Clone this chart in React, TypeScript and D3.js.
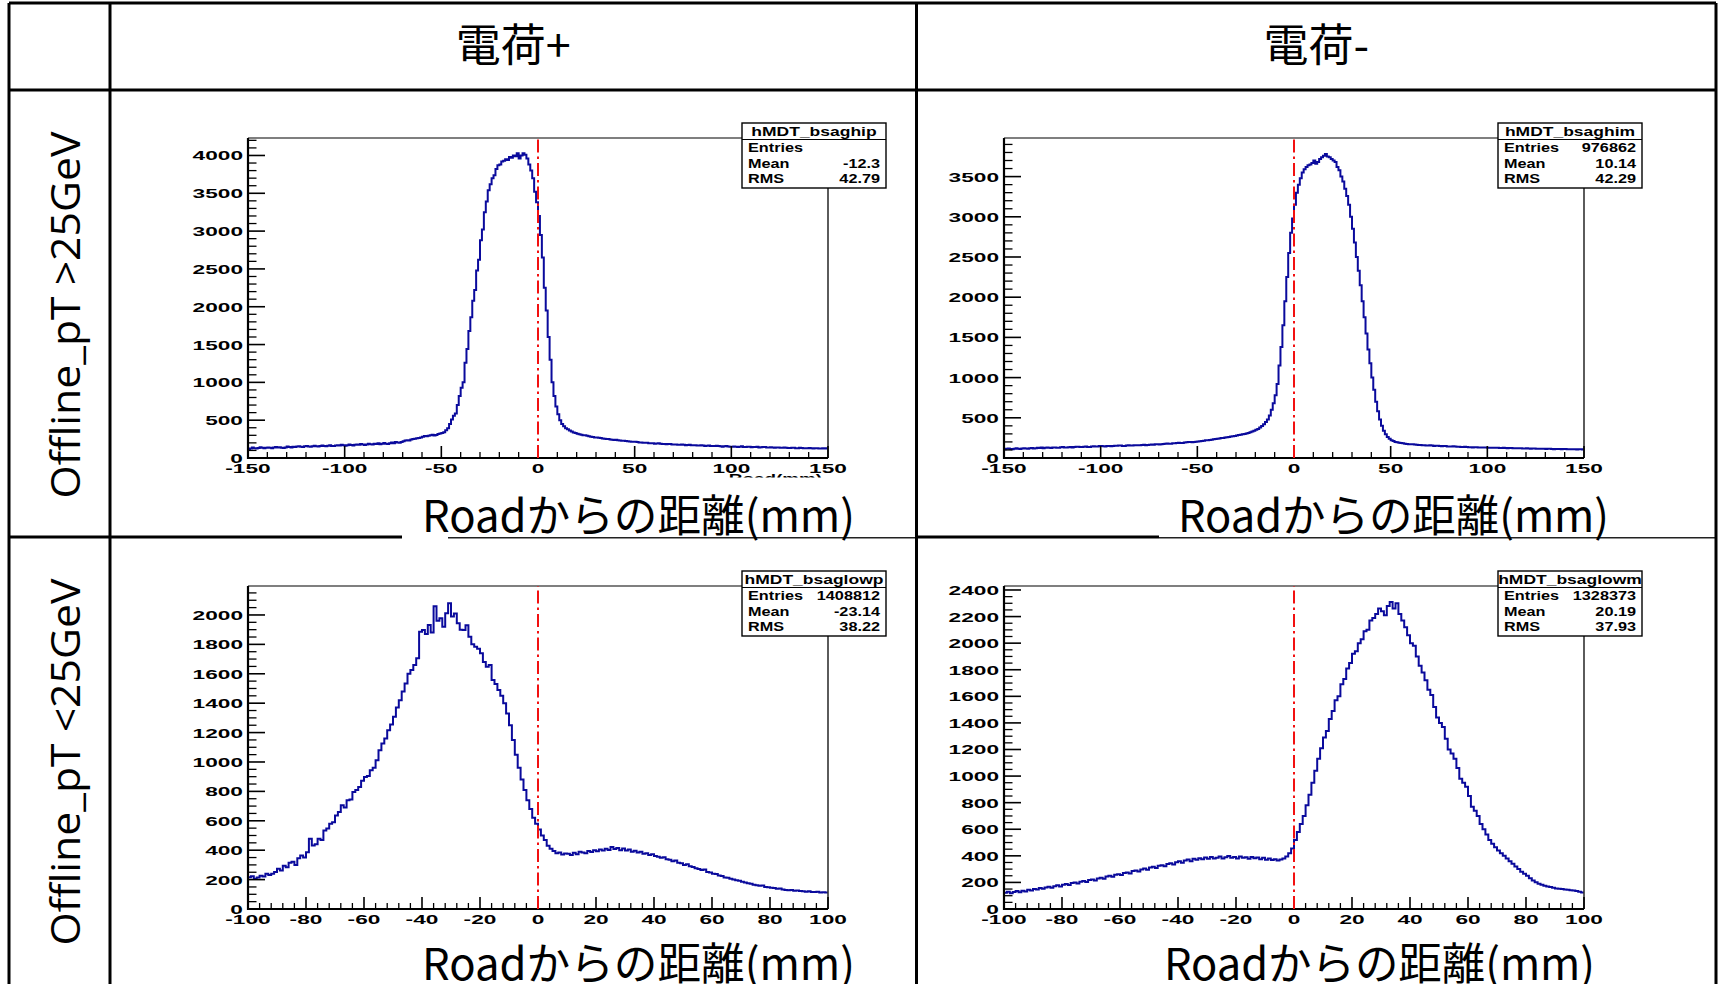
import React, { useEffect } from 'react';
import * as d3 from 'd3';

const W = 1719;
const H = 984;

// ---- histogram contents (bin counts) ----
// hMDT_bsaghip : 300 bins of 1 mm from -150 to 150
const highPlusCounts = [
  118, 126, 138, 130, 124, 133, 142, 136, 128, 135,
  140, 134, 130, 139, 146, 138, 141, 136, 132, 140,
  152, 146, 140, 148, 145, 151, 156, 149, 147, 155,
  160, 152, 150, 157, 162, 155, 151, 160, 165, 158,
  156, 163, 168, 160, 158, 166, 170, 164, 175, 169,
  162, 170, 178, 171, 166, 176, 180, 174, 185, 178,
  172, 180, 188, 182, 178, 190, 186, 194, 182, 190,
  198, 190, 186, 195, 204, 196, 212, 206, 200, 210,
  222, 230, 236, 232, 244, 250, 255, 262, 266, 272,
  280, 290, 286, 294, 302, 308, 298, 304, 318, 324,
  330, 342, 368, 395, 450, 510, 560, 590, 700, 820,
  930, 1000, 1260, 1440, 1680, 1860, 2080, 2220, 2480, 2620,
  2880, 3020, 3250, 3390, 3540, 3620, 3700, 3740, 3820, 3870,
  3880, 3920, 3930, 3950, 3940, 3980, 3970, 4000, 3990, 4030,
  3960, 4000, 4030, 4010, 3960, 3880, 3800, 3700, 3520, 3380,
  3200, 2950, 2650, 2250, 1950, 1600, 1300, 1000, 820, 680,
  580, 500, 450, 420, 395, 380, 362, 350, 338, 330,
  322, 315, 308, 302, 300, 295, 288, 282, 278, 272,
  272, 268, 265, 258, 256, 252, 250, 246, 242, 238,
  240, 236, 232, 228, 228, 224, 222, 218, 216, 214,
  214, 210, 206, 204, 202, 200, 200, 196, 196, 194,
  190, 192, 194, 188, 186, 186, 182, 184, 186, 180,
  178, 180, 176, 174, 178, 176, 170, 172, 174, 170,
  168, 170, 166, 164, 168, 166, 160, 162, 164, 160,
  158, 160, 162, 158, 156, 150, 154, 158, 152, 150,
  150, 152, 148, 146, 150, 154, 146, 144, 150, 148,
  142, 146, 144, 148, 140, 142, 146, 144, 138, 140,
  142, 140, 136, 138, 140, 136, 134, 138, 136, 132,
  132, 136, 134, 130, 130, 134, 132, 128, 128, 130,
  132, 128, 126, 130, 128, 124, 125, 128, 126, 130,
];
// hMDT_bsaghim : 300 bins of 1 mm from -150 to 150
const highMinusCounts = [
  108, 114, 118, 112, 110, 116, 120, 114, 112, 118,
  122, 118, 116, 120, 124, 118, 122, 126, 124, 130,
  122, 126, 130, 128, 124, 130, 132, 128, 128, 134,
  136, 132, 130, 134, 138, 132, 136, 140, 140, 138,
  136, 140, 142, 138, 138, 144, 146, 142, 142, 148,
  148, 146, 144, 150, 150, 146, 148, 152, 152, 156,
  155, 150, 150, 154, 158, 154, 155, 160, 160, 158,
  158, 162, 165, 160, 162, 166, 168, 164, 172, 170,
  168, 172, 175, 178, 180, 176, 178, 182, 185, 188,
  190, 186, 188, 192, 195, 198, 200, 196, 198, 202,
  205, 208, 212, 216, 220, 222, 225, 228, 232, 236,
  240, 244, 248, 250, 255, 258, 262, 266, 270, 275,
  280, 285, 290, 295, 300, 305, 312, 320, 330, 340,
  350, 362, 380, 398, 420, 448, 480, 530, 600, 680,
  780, 920, 1150, 1380, 1650, 1950, 2250, 2550, 2800, 2980,
  3150, 3300, 3400, 3480, 3550, 3590, 3620, 3640, 3650, 3670,
  3700, 3660, 3680, 3720, 3740, 3760, 3780, 3750, 3740, 3720,
  3700, 3680, 3620, 3580, 3500, 3440, 3350, 3260, 3150, 3000,
  2850, 2680, 2500, 2330, 2150, 1950, 1750, 1550, 1350, 1180,
  1000, 850, 700, 580, 480, 400, 340, 295, 260, 238,
  220, 210, 200, 195, 190, 186, 182, 178, 175, 172,
  170, 170, 168, 165, 162, 162, 160, 158, 155, 156,
  158, 154, 150, 152, 152, 150, 146, 148, 148, 144,
  142, 144, 145, 142, 140, 140, 138, 136, 140, 138,
  135, 134, 132, 134, 135, 132, 130, 131, 132, 130,
  128, 128, 126, 127, 128, 126, 124, 125, 126, 124,
  122, 123, 124, 122, 120, 121, 122, 120, 118, 119,
  120, 118, 116, 117, 118, 116, 115, 114, 116, 115,
  112, 114, 115, 113, 110, 112, 113, 111, 110, 112,
  112, 110, 108, 110, 110, 108, 106, 108, 108, 106,
];
// hMDT_bsaglowp : 200 bins of 1 mm from -100 to 100
const lowPlusCounts = [
  216, 222, 205, 214, 227, 221, 239, 232, 239, 252,
  273, 262, 295, 284, 314, 322, 300, 345, 364, 350,
  386, 478, 432, 440, 477, 470, 534, 548, 580, 590,
  636, 660, 705, 690, 739, 745, 795, 810, 830, 872,
  898, 905, 943, 960, 1011, 1080, 1125, 1160, 1216, 1255,
  1307, 1370, 1420, 1480, 1534, 1600, 1625, 1660, 1705, 1886,
  1898, 1870, 1932, 1880, 2060, 1960, 1977, 1920, 2011, 2080,
  1989, 2010, 1943, 1900, 1898, 1930, 1852, 1800, 1784, 1770,
  1739, 1680, 1648, 1660, 1557, 1530, 1489, 1450, 1400, 1330,
  1250, 1150, 1050, 960, 880, 810, 740, 680, 620, 580,
  540, 500, 470, 430, 410, 395, 380, 385, 370, 378,
  375, 368, 382, 372, 390, 385, 380, 395, 388, 400,
  392, 405, 398, 410, 402, 422, 408, 415, 400, 412,
  398, 405, 390, 396, 385, 390, 375, 380, 368, 372,
  360, 355, 348, 352, 338, 335, 325, 330, 315, 312,
  300, 305, 290, 285, 278, 272, 265, 268, 252, 248,
  240, 238, 228, 225, 215, 212, 205, 200, 195, 192,
  185, 180, 176, 172, 165, 162, 158, 160, 150, 148,
  145, 142, 138, 140, 132, 130, 128, 130, 124, 126,
  122, 120, 118, 121, 116, 115, 118, 112, 114, 112,
];
// hMDT_bsaglowm : 200 bins of 1 mm from -100 to 100
const lowMinusCounts = [
  123, 130, 118, 128, 135, 126, 138, 132, 145, 140,
  150, 146, 158, 152, 162, 168, 160, 172, 178, 170,
  182, 188, 180, 195, 200, 192, 205, 210, 204, 218,
  222, 215, 230, 236, 228, 245, 250, 242, 258, 262,
  255, 270, 275, 268, 285, 290, 282, 298, 305, 296,
  312, 318, 308, 325, 330, 322, 338, 345, 335, 352,
  360, 348, 365, 372, 360, 378, 370, 382, 375, 388,
  378, 392, 380, 385, 395, 380, 390, 398, 385, 392,
  380, 395, 385, 390, 378, 392, 382, 388, 375, 385,
  370, 380, 368, 375, 365, 372, 380, 395, 420, 455,
  520, 580, 640, 700, 780, 860, 950, 1040, 1130, 1210,
  1290, 1340, 1430, 1490, 1570, 1600, 1690, 1730, 1810, 1850,
  1920, 1940, 2000, 2030, 2090, 2100, 2170, 2190, 2220, 2260,
  2240, 2210, 2280, 2310, 2260, 2300, 2220, 2170, 2120, 2060,
  2000, 1980, 1900, 1830, 1780, 1720, 1650, 1610, 1520, 1440,
  1400, 1370, 1280, 1200, 1170, 1130, 1060, 980, 950, 920,
  850, 770, 740, 700, 640, 600, 560, 520, 490, 465,
  440, 420, 400, 380, 360, 340, 320, 300, 280, 265,
  250, 232, 215, 202, 190, 182, 175, 170, 165, 160,
  155, 152, 150, 146, 145, 142, 140, 135, 130, 125,
];

// ---- axis ticks ----
const highXTicks = [-150, -100, -50, 0, 50, 100, 150];
const lowXTicks = [-100, -80, -60, -40, -20, 0, 20, 40, 60, 80, 100];
const highPlusYTicks = [0, 500, 1000, 1500, 2000, 2500, 3000, 3500, 4000];
const highMinusYTicks = [0, 500, 1000, 1500, 2000, 2500, 3000, 3500];
const lowPlusYTicks = [0, 200, 400, 600, 800, 1000, 1200, 1400, 1600, 1800, 2000];
const lowMinusYTicks = [0, 200, 400, 600, 800, 1000, 1200, 1400, 1600, 1800, 2000, 2200, 2400];

// ---- stats boxes ----
const statNames = ['hMDT_bsaghip', 'hMDT_bsaghim', 'hMDT_bsaglowp', 'hMDT_bsaglowm'];
const statEntries = ['', '976862', '1408812', '1328373'];
const statMeans = ['-12.3', '10.14', '-23.14', '20.19'];
const statRms = ['42.79', '42.29', '38.22', '37.93'];

// ---- table texts ----
const columnHeaders = ['電荷+', '電荷-'];
const rowHeaders = ['Offline_pT >25GeV', 'Offline_pT <25GeV'];
const axisTitle = 'Roadからの距離(mm)';
const hiddenRootTitle = 'Road(mm)';

const ROOT_FONT = '"Liberation Sans", Arial, Helvetica, sans-serif';
const JP_FONT = '"Noto Sans CJK JP", "Noto Sans", sans-serif';

type PanelCfg = {
  counts: number[];
  xmin: number; xmax: number; binW: number;
  ymax: number;
  xTicks: number[]; xMinor: number;
  yTicks: number[]; yMinor: number;
  left: number; right: number; top: number; bottom: number;
  stat: number;
};

function RootText(props: { x: number; y: number; anchor: string; size: number; sx: number; children: any; fill?: string }) {
  const { x, y, anchor, size, sx, children, fill } = props;
  return (
    <text
      transform={`translate(${x},${y}) scale(${sx},1)`}
      textAnchor={anchor as any}
      fontFamily={ROOT_FONT}
      fontWeight="bold"
      fontSize={size}
      fill={fill || '#000'}
    >
      {children}
    </text>
  );
}

function Panel({ p }: { p: PanelCfg }) {
  const x = d3.scaleLinear().domain([p.xmin, p.xmax]).range([p.left, p.right]);
  const y = d3.scaleLinear().domain([0, p.ymax]).range([p.bottom, p.top]);
  const pts: [number, number][] = p.counts.map((c, i) => [p.xmin + i * p.binW, c]);
  pts.push([p.xmin + p.counts.length * p.binW, p.counts[p.counts.length - 1]]);
  const path = d3
    .line<[number, number]>()
    .x((d) => x(d[0]))
    .y((d) => y(d[1]))
    .curve(d3.curveStepAfter)(pts) as string;

  const isMajor = (v: number, ticks: number[]) => ticks.some((t) => Math.abs(t - v) < 1e-6);
  const xMinors = d3.range(p.xmin, p.xmax + 1e-6, p.xMinor).filter((v) => !isMajor(v, p.xTicks));
  const yMinors = d3.range(0, p.ymax, p.yMinor).filter((v) => !isMajor(v, p.yTicks));

  const sb = { x0: p.right - 86, x1: p.right + 58, y0: p.top - 15, y1: p.top + 50 };
  const rowY = [sb.y0 + 24, sb.y0 + 40, sb.y0 + 55.5];

  return (
    <g>
      <path d={path} fill="none" stroke="#0a0a9c" strokeWidth={2} strokeLinejoin="miter" />
      {/* frame */}
      <line x1={p.left} x2={p.right} y1={p.top} y2={p.top} stroke="#555" strokeWidth={1.6} />
      <line x1={p.right} x2={p.right} y1={p.top} y2={p.bottom} stroke="#333" strokeWidth={1.6} />
      <line x1={p.left} x2={p.left} y1={p.top} y2={p.bottom + 1} stroke="#000" strokeWidth={2.2} />
      <line x1={p.left - 1} x2={p.right} y1={p.bottom} y2={p.bottom} stroke="#000" strokeWidth={2.2} />
      {/* y ticks */}
      {p.yTicks.map((t) => (
        <line key={'ym' + t} x1={p.left} x2={p.left + 17} y1={y(t)} y2={y(t)} stroke="#000" strokeWidth={1.6} />
      ))}
      {yMinors.map((t) => (
        <line key={'yn' + t} x1={p.left} x2={p.left + 8.5} y1={y(t)} y2={y(t)} stroke="#000" strokeWidth={1.3} />
      ))}
      {/* x ticks */}
      {p.xTicks.map((t) => (
        <line key={'xm' + t} x1={x(t)} x2={x(t)} y1={p.bottom} y2={p.bottom - 12} stroke="#000" strokeWidth={1.6} />
      ))}
      {xMinors.map((t) => (
        <line key={'xn' + t} x1={x(t)} x2={x(t)} y1={p.bottom} y2={p.bottom - 6} stroke="#000" strokeWidth={1.3} />
      ))}
      {/* tick labels */}
      {p.yTicks.map((t) => (
        <RootText key={'yl' + t} x={p.left - 5} y={y(t) + 5} anchor="end" size={13.5} sx={1.68}>
          {String(t)}
        </RootText>
      ))}
      {p.xTicks.map((t) => (
        <RootText key={'xl' + t} x={x(t)} y={p.bottom + 15} anchor="middle" size={13.5} sx={1.68}>
          {String(t)}
        </RootText>
      ))}
      {/* reference line at 0 */}
      <line
        x1={x(0)} x2={x(0)} y1={p.bottom} y2={p.top}
        stroke="#f21010" strokeWidth={2} strokeDasharray="13,4,2.5,4"
      />
      {/* stats box */}
      <rect x={sb.x0} y={sb.y0} width={sb.x1 - sb.x0} height={sb.y1 - sb.y0} fill="#fff" stroke="#000" strokeWidth={1.4} />
      <line x1={sb.x0} x2={sb.x1} y1={sb.y0 + 16.5} y2={sb.y0 + 16.5} stroke="#000" strokeWidth={1.2} />
      <RootText x={(sb.x0 + sb.x1) / 2} y={sb.y0 + 13} anchor="middle" size={12.5} sx={1.4}>
        {statNames[p.stat]}
      </RootText>
      <RootText x={sb.x0 + 6} y={rowY[0] + 4.5} anchor="start" size={12.5} sx={1.3}>Entries</RootText>
      <RootText x={sb.x1 - 6} y={rowY[0] + 4.5} anchor="end" size={12.5} sx={1.3}>{statEntries[p.stat]}</RootText>
      <RootText x={sb.x0 + 6} y={rowY[1] + 4.5} anchor="start" size={12.5} sx={1.3}>Mean</RootText>
      <RootText x={sb.x1 - 6} y={rowY[1] + 4.5} anchor="end" size={12.5} sx={1.3}>{statMeans[p.stat]}</RootText>
      <RootText x={sb.x0 + 6} y={rowY[2] + 4.5} anchor="start" size={12.5} sx={1.3}>RMS</RootText>
      <RootText x={sb.x1 - 6} y={rowY[2] + 4.5} anchor="end" size={12.5} sx={1.3}>{statRms[p.stat]}</RootText>
    </g>
  );
}

export default function App() {
  useEffect(() => {
    document.body.style.margin = '0';
    document.body.style.overflow = 'hidden';
  }, []);

  const colL = { left: 248, right: 828 };
  const colR = { left: 1004, right: 1584 };
  const rowT = { top: 138, bottom: 458 };
  const rowB = { top: 586, bottom: 909 };

  const panels: PanelCfg[] = [
    { counts: highPlusCounts, xmin: -150, xmax: 150, binW: 1, ymax: 4231, xTicks: highXTicks, xMinor: 10, yTicks: highPlusYTicks, yMinor: 100, ...colL, ...rowT, stat: 0 },
    { counts: highMinusCounts, xmin: -150, xmax: 150, binW: 1, ymax: 3980, xTicks: highXTicks, xMinor: 10, yTicks: highMinusYTicks, yMinor: 100, ...colR, ...rowT, stat: 1 },
    { counts: lowPlusCounts, xmin: -100, xmax: 100, binW: 1, ymax: 2197, xTicks: lowXTicks, xMinor: 4, yTicks: lowPlusYTicks, yMinor: 50, ...colL, ...rowB, stat: 2 },
    { counts: lowMinusCounts, xmin: -100, xmax: 100, binW: 1, ymax: 2430, xTicks: lowXTicks, xMinor: 4, yTicks: lowMinusYTicks, yMinor: 50, ...colR, ...rowB, stat: 3 },
  ];

  const gridX = [9, 110, 916.5, 1716];
  const gridY = { top: 3, header: 90, mid: 537 };
  const titles = [
    { x: 422, y: 532, w: 433 },
    { x: 1178, y: 532, w: 431 },
    { x: 422, y: 980, w: 433 },
    { x: 1164, y: 980, w: 431 },
  ];

  return (
    <svg width={W} height={H} style={{ position: 'absolute', left: 0, top: 0, background: '#fff' }}>
      <rect x={0} y={0} width={W} height={H} fill="#fff" />
      <defs>
        <clipPath id="hiddenTitleClip">
          <rect x={700} y={468} width={140} height={9.5} />
        </clipPath>
      </defs>
      {/* table grid */}
      <line x1={gridX[0]} x2={gridX[3]} y1={gridY.top} y2={gridY.top} stroke="#000" strokeWidth={3} />
      <line x1={gridX[0]} x2={gridX[3]} y1={gridY.header} y2={gridY.header} stroke="#000" strokeWidth={3} />
      {/* middle divider: partly covered by the axis-title text boxes */}
      <line x1={gridX[0]} x2={402} y1={gridY.mid} y2={gridY.mid} stroke="#000" strokeWidth={3} />
      <line x1={448} x2={gridX[2]} y1={gridY.mid + 0.8} y2={gridY.mid + 0.8} stroke="#222" strokeWidth={1.6} />
      <line x1={gridX[2]} x2={1159} y1={gridY.mid} y2={gridY.mid} stroke="#000" strokeWidth={3} />
      <line x1={1159} x2={gridX[3]} y1={gridY.mid + 0.8} y2={gridY.mid + 0.8} stroke="#222" strokeWidth={1.6} />
      {gridX.map((gx, i) => (
        <line key={'gx' + i} x1={gx} x2={gx} y1={gridY.top} y2={H} stroke="#000" strokeWidth={3} />
      ))}

      {/* column headers */}
      <text x={(gridX[1] + gridX[2]) / 2} y={62} textAnchor="middle" fontFamily={JP_FONT} fontSize={45}>
        {columnHeaders[0]}
      </text>
      <text x={(gridX[2] + gridX[3]) / 2} y={62} textAnchor="middle" fontFamily={JP_FONT} fontSize={45}>
        {columnHeaders[1]}
      </text>

      {/* row headers */}
      {[315, 762].map((cy, i) => (
        <text
          key={'rh' + i}
          transform={`translate(80,${cy}) rotate(-90)`}
          textAnchor="middle"
          fontFamily='"Open Sans", "Noto Sans", sans-serif'
          fontSize={41}
          textLength={367}
          lengthAdjust="spacingAndGlyphs"
        >
          {rowHeaders[i]}
        </text>
      ))}

      {panels.map((p, i) => (
        <Panel key={i} p={p} />
      ))}

      {/* ROOT's own x-axis title, mostly hidden behind the slide text box */}
      <g clipPath="url(#hiddenTitleClip)">
        <RootText x={822} y={483} anchor="end" size={13} sx={1.45}>
          {hiddenRootTitle}
        </RootText>
      </g>

      {/* axis titles */}
      {titles.map((t, i) => (
        <text
          key={'at' + i}
          x={t.x}
          y={t.y}
          fontFamily={JP_FONT}
          fontSize={44}
          textLength={t.w}
          lengthAdjust="spacingAndGlyphs"
        >
          {axisTitle}
        </text>
      ))}
    </svg>
  );
}
